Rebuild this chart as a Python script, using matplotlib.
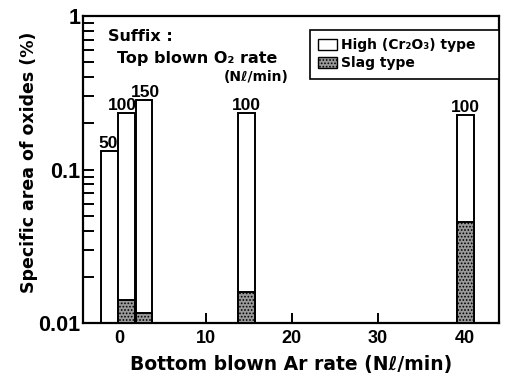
import matplotlib.pyplot as plt
from matplotlib.patches import Patch

plt.rcParams['font.family'] = ['DejaVu Sans']
plt.rcParams['font.weight'] = 'bold'
plt.rcParams['hatch.linewidth'] = 0.8

# bottom blown Ar rate (bars near 0 are spread out so they sit side by side)
ar_rate = [-1.15, 0.8, 2.85, 14.75, 40.15]
o2_labels = ['50', '100', '150', '100', '100']
high_type = [0.132, 0.233, 0.284, 0.233, 0.228]
slag_type = [None, 0.0141, 0.0116, 0.0159, 0.0457]

ymin = 0.01
width = 1.95
narrow = ['Liberation Sans Narrow', 'Liberation Sans']

fig = plt.figure(figsize=(5.07, 3.76), dpi=100)
ax = fig.add_axes([0.164, 0.141, 0.820, 0.816])

ax.bar(ar_rate, [h - ymin for h in high_type], bottom=ymin, width=width,
       facecolor='white', edgecolor='black', linewidth=1.4, zorder=2)
for x, s in zip(ar_rate, slag_type):
    if s is None:
        continue
    ax.bar(x, s - ymin, bottom=ymin, width=width, facecolor='#9a9a9a',
           edgecolor='black', hatch='.....', linewidth=1.4, zorder=3)

# top blown O2 rate above each bar
offsets = [-1, -3, 1, 0, 0]
for x, h, lab, dx in zip(ar_rate, high_type, o2_labels, offsets):
    ax.annotate(lab, (x, h), xytext=(dx, 0), textcoords='offset points',
                ha='center', va='bottom', fontsize=12.5,
                family=narrow, fontweight='bold')

ax.set_yscale('log')
ax.set_ylim(0.01, 1)
ax.set_xlim(-4.2, 44)
ax.set_xticks([0, 10, 20, 30, 40])
ax.set_yticks([0.01, 0.1, 1])
ax.set_yticklabels(['0.01', '0.1', '1'])
ax.tick_params(axis='both', which='both', direction='in', width=1.4)
ax.tick_params(axis='y', which='major', length=8, pad=2)
ax.tick_params(axis='y', which='minor', length=8)
ax.tick_params(axis='x', length=7, pad=5)
for lab in ax.get_yticklabels():
    lab.set_family(narrow)
    lab.set_fontsize(15.5)
    lab.set_fontweight('bold')
for lab in ax.get_xticklabels():
    lab.set_family('Liberation Sans')
    lab.set_fontsize(13)
    lab.set_fontweight('bold')
for sp in ax.spines.values():
    sp.set_linewidth(1.6)

ax.set_xlabel('Bottom blown Ar rate (N\u2113/min)', fontsize=13.5,
              fontweight='bold', labelpad=6)
ax.set_ylabel('Specific area of oxides (%)', fontsize=12.5,
              fontweight='bold', labelpad=1)
ax.yaxis.set_label_coords(-0.108, 0.525)

ax.text(0.06, 0.958, 'Suffix :', transform=ax.transAxes, fontsize=11.5,
        fontweight='bold', va='top', ha='left')
ax.text(0.082, 0.886, 'Top blown O\u2082 rate', transform=ax.transAxes,
        fontsize=11.5, fontweight='bold', va='top', ha='left')
ax.text(0.494, 0.826, '(N\u2113/min)', transform=ax.transAxes, fontsize=10,
        fontweight='bold', va='top', ha='right')

handles = [Patch(facecolor='white', edgecolor='black', linewidth=1.0),
           Patch(facecolor='#9a9a9a', edgecolor='black', hatch='.....',
                 linewidth=1.0)]
leg = ax.legend(handles, ['High (Cr\u2082O\u2083) type', 'Slag type'],
                loc='upper right', bbox_to_anchor=(0.546, 0.80, 0.454, 0.155),
                mode='expand', fontsize=10, fancybox=False, framealpha=1,
                edgecolor='black', handlelength=1.3, handleheight=0.8,
                handletextpad=0.3, borderaxespad=0, borderpad=0.6,
                labelspacing=0.3)
leg.get_frame().set_linewidth(1.2)

fig.savefig('out.png', dpi=100)
